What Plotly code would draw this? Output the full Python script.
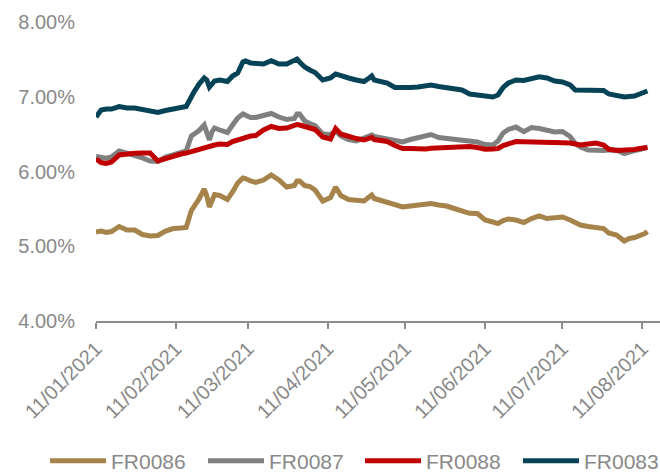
import plotly.graph_objects as go

# Observation dates (daily yields, 2021)
dates = [
    "2021-01-11", "2021-01-13", "2021-01-15", "2021-01-17", "2021-01-20", "2021-01-23",
    "2021-01-26", "2021-01-29", "2021-02-01", "2021-02-04", "2021-02-07", "2021-02-10",
    "2021-02-13", "2021-02-15", "2021-02-17", "2021-02-18", "2021-02-20", "2021-02-22",
    "2021-02-23", "2021-02-24", "2021-02-25", "2021-02-26", "2021-02-28", "2021-03-03",
    "2021-03-05", "2021-03-07", "2021-03-09", "2021-03-10", "2021-03-12", "2021-03-14",
    "2021-03-17", "2021-03-20", "2021-03-23", "2021-03-26", "2021-03-29", "2021-03-30",
    "2021-03-31", "2021-04-02", "2021-04-04", "2021-04-06", "2021-04-09", "2021-04-12",
    "2021-04-14", "2021-04-16", "2021-04-19", "2021-04-22", "2021-04-25", "2021-04-27",
    "2021-04-28", "2021-04-29", "2021-05-01", "2021-05-04", "2021-05-07", "2021-05-10",
    "2021-05-13", "2021-05-16", "2021-05-19", "2021-05-21", "2021-05-24", "2021-05-27",
    "2021-05-30", "2021-06-02", "2021-06-05", "2021-06-08", "2021-06-11", "2021-06-14",
    "2021-06-16", "2021-06-18", "2021-06-20", "2021-06-23", "2021-06-26", "2021-06-29",
    "2021-07-02", "2021-07-05", "2021-07-08", "2021-07-11", "2021-07-14", "2021-07-16",
    "2021-07-18", "2021-07-21", "2021-07-24", "2021-07-27", "2021-07-29", "2021-08-01",
    "2021-08-04", "2021-08-06", "2021-08-08", "2021-08-10", "2021-08-12", "2021-08-13",
]

fr0086 = [
    5.190, 5.204, 5.184, 5.197, 5.264, 5.217, 5.217, 5.157, 5.137, 5.144, 5.204, 5.237,
    5.244, 5.251, 5.478, 5.525, 5.632, 5.766, 5.672, 5.525, 5.632, 5.692, 5.679, 5.625,
    5.726, 5.846, 5.913, 5.906, 5.873, 5.853, 5.886, 5.953, 5.886, 5.792, 5.812, 5.873,
    5.873, 5.812, 5.799, 5.752, 5.605, 5.652, 5.792, 5.679, 5.625, 5.612, 5.605, 5.659,
    5.686, 5.639, 5.619, 5.599, 5.558, 5.525, 5.538, 5.552, 5.572, 5.572, 5.552, 5.538,
    5.505, 5.465, 5.441, 5.438, 5.351, 5.324, 5.304, 5.344, 5.365, 5.351, 5.318, 5.371,
    5.405, 5.371, 5.378, 5.391, 5.351, 5.318, 5.284, 5.264, 5.257, 5.237, 5.177, 5.151,
    5.070, 5.104, 5.117, 5.137, 5.171, 5.197,
]

fr0087 = [
    6.201, 6.187, 6.177, 6.194, 6.274, 6.247, 6.221, 6.181, 6.141, 6.134, 6.194, 6.221,
    6.247, 6.274, 6.475, 6.495, 6.548, 6.622, 6.528, 6.421, 6.528, 6.582, 6.555, 6.522,
    6.622, 6.716, 6.769, 6.756, 6.722, 6.722, 6.756, 6.776, 6.729, 6.695, 6.709, 6.769,
    6.769, 6.675, 6.642, 6.615, 6.502, 6.495, 6.542, 6.475, 6.428, 6.408, 6.448, 6.482,
    6.488, 6.468, 6.455, 6.435, 6.421, 6.395, 6.428, 6.448, 6.468, 6.495, 6.455, 6.441,
    6.428, 6.421, 6.412, 6.395, 6.361, 6.354, 6.408, 6.515, 6.562, 6.595, 6.532, 6.589,
    6.575, 6.555, 6.528, 6.535, 6.468, 6.375, 6.328, 6.288, 6.278, 6.281, 6.288, 6.288,
    6.241, 6.268, 6.281, 6.295, 6.315, 6.324,
]

fr0088 = [
    6.167, 6.120, 6.107, 6.127, 6.221, 6.241, 6.244, 6.247, 6.247, 6.141, 6.174, 6.214,
    6.234, 6.247, 6.268, 6.281, 6.301, 6.328, 6.334, 6.341, 6.348, 6.354, 6.368, 6.361,
    6.401, 6.421, 6.448, 6.462, 6.475, 6.482, 6.555, 6.602, 6.575, 6.582, 6.615, 6.629,
    6.622, 6.595, 6.582, 6.562, 6.462, 6.435, 6.575, 6.502, 6.468, 6.441, 6.421, 6.435,
    6.455, 6.428, 6.415, 6.401, 6.348, 6.308, 6.308, 6.301, 6.301, 6.310, 6.315, 6.321,
    6.328, 6.330, 6.334, 6.321, 6.297, 6.301, 6.308, 6.348, 6.368, 6.401, 6.399, 6.399,
    6.399, 6.388, 6.385, 6.385, 6.381, 6.368, 6.354, 6.368, 6.381, 6.354, 6.297, 6.282,
    6.282, 6.282, 6.295, 6.308, 6.328, 6.321,
]

fr0083 = [
    6.729, 6.823, 6.836, 6.836, 6.869, 6.849, 6.849, 6.829, 6.803, 6.789, 6.816, 6.843,
    6.856, 6.869, 7.010, 7.063, 7.170, 7.251, 7.224, 7.130, 7.170, 7.211, 7.224, 7.204,
    7.278, 7.318, 7.465, 7.478, 7.452, 7.445, 7.438, 7.482, 7.438, 7.438, 7.492, 7.505,
    7.465, 7.398, 7.358, 7.325, 7.224, 7.251, 7.305, 7.278, 7.251, 7.224, 7.204, 7.251,
    7.278, 7.224, 7.204, 7.184, 7.124, 7.117, 7.124, 7.130, 7.144, 7.157, 7.137, 7.124,
    7.117, 7.090, 7.037, 7.023, 7.003, 6.997, 7.023, 7.124, 7.184, 7.224, 7.217, 7.251,
    7.268, 7.251, 7.211, 7.197, 7.157, 7.090, 7.090, 7.090, 7.090, 7.084, 7.037, 7.010,
    6.997, 7.003, 7.010, 7.037, 7.063, 7.077,
]

series_names = ["FR0086", "FR0087", "FR0088", "FR0083"]
series_colors = ["#A5834A", "#808080", "#C00000", "#074357"]

tick_dates = ["2021-01-11", "2021-02-11", "2021-03-11", "2021-04-11",
              "2021-05-11", "2021-06-11", "2021-07-11", "2021-08-11"]
tick_labels = ["11/01/2021", "11/02/2021", "11/03/2021", "11/04/2021",
               "11/05/2021", "11/06/2021", "11/07/2021", "11/08/2021"]
y_ticks = [4, 5, 6, 7, 8]
y_labels = ["4.00%", "5.00%", "6.00%", "7.00%", "8.00%"]

FONT = "Liberation Sans, Arial, sans-serif"
TEXT_GREY = "#898989"

# one legend box per series so the entries can be spaced evenly along the bottom
legend_ids = ["legend", "legend2", "legend3", "legend4"]
legend_left = [45, 203, 360, 518]   # container pixels

fig = go.Figure()
for name, color, values, lid in zip(series_names, series_colors,
                                    [fr0086, fr0087, fr0088, fr0083], legend_ids):
    fig.add_trace(go.Scatter(
        x=dates, y=values, name=name, mode="lines",
        line=dict(color=color, width=5), legend=lid,
    ))

W, H = 660, 474
fig.update_layout(
    width=W, height=H,
    margin=dict(l=96, r=0, t=22, b=153),
    paper_bgcolor="white", plot_bgcolor="white",
    font=dict(family=FONT, size=20, color=TEXT_GREY),
    showlegend=True,
)
for lid, left in zip(legend_ids, legend_left):
    fig.update_layout({lid: dict(
        orientation="h",
        x=left / W, xanchor="left", xref="container",
        y=13 / H, yanchor="middle", yref="container",
        font=dict(family=FONT, size=21, color=TEXT_GREY),
        itemwidth=56, bgcolor="rgba(0,0,0,0)",
    )})

fig.update_xaxes(
    type="date",
    range=["2021-01-11", "2021-08-17 21:00"],
    tickmode="array", tickvals=tick_dates, ticktext=tick_labels,
    tickangle=-45, ticks="outside", ticklen=6, tickwidth=2, tickcolor="#8C8C8C",
    showline=True, linecolor="#8C8C8C", linewidth=2,
    showgrid=False, zeroline=False,
    tickfont=dict(family=FONT, size=20, color=TEXT_GREY),
)

fig.update_yaxes(
    range=[4, 8], tickmode="array", tickvals=y_ticks, ticktext=y_labels,
    showgrid=False, zeroline=False, showline=False, ticks="",
    ticklabelstandoff=20,
    tickfont=dict(family=FONT, size=20, color=TEXT_GREY),
)

fig.write_html("out.html")
